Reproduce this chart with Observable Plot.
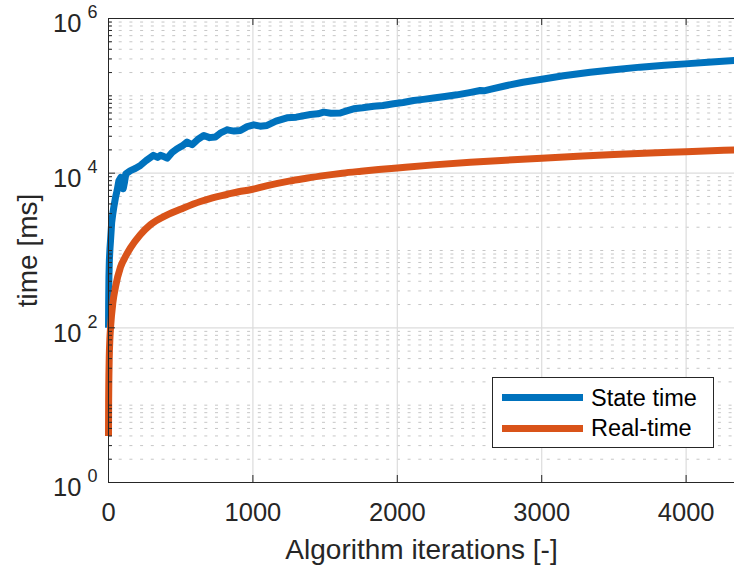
<!DOCTYPE html>
<html><head><meta charset="utf-8">
<script src="https://cdn.jsdelivr.net/npm/d3@7"></script>
<script src="https://cdn.jsdelivr.net/npm/@observablehq/plot@0.6"></script>
<style>
body{margin:0;background:#fff;}
#wrap{position:relative;width:734px;height:572px;font-family:"Liberation Sans",Arial,Helvetica,sans-serif;overflow:hidden;}
.lgbox{position:absolute;left:492px;top:377px;width:220px;height:69px;border:1px solid #262626;background:#fff;}
.lgline{position:absolute;left:502px;width:81px;height:7px;}
.lgtext{position:absolute;left:591px;font-size:23.5px;line-height:23.5px;color:#000;white-space:nowrap;}
</style></head>
<body><div id="wrap"></div>
<script>
// ---- data ----
const seriesNames = ["State time", "Real-time"];
const seriesColors = ["#0072BD", "#D95319"];

const stateIter = [0,1,3,6,10,14,22,30,37,48,60,72,85,95,102,110,120,152,185,221,260,311,340,360,380,406,440,475,510,544,579,620,660,700,740,780,821,870,913,960,1006,1050,1098,1160,1236,1300,1398,1450,1490,1540,1605,1650,1697,1760,1836,1900,1974,2040,2113,2180,2251,2330,2413,2500,2574,2600,2650,2759,2870,2990,3150,3336,3500,3682,3850,3993,4150,4335];
const stateMs = [100,200,450,750,1050,1350,2300,3000,3650,4800,6000,8000,8800,7500,6300,7500,9800,10800,11500,12600,14500,17000,16000,17000,16500,15600,18500,20700,22500,25200,23300,27500,30700,28800,29400,33500,36300,35000,35600,40000,42200,40500,41400,47000,52000,53000,57300,58500,61500,59500,60000,64000,68000,70000,73400,75000,78900,82000,87100,90000,93500,98000,103000,110000,117000,116000,122000,136000,150000,163000,182000,202000,217000,235000,248000,259000,272000,287000];

const realIter = [0,1,2,5,10,14,30,48,83,120,152,220,290,400,520,637,720,820,900,983,1100,1250,1370,1490,1620,1750,1870,2000,2250,2505,2750,3000,3250,3500,3750,4000,4335];
const realMs = [4,11,18,40,75,100,210,336,610,850,1080,1600,2150,2850,3550,4300,4800,5300,5750,6100,6900,7900,8600,9300,10000,10600,11150,11700,12800,13800,14700,15600,16500,17400,18200,18900,20000];

const xTicks = [0, 1000, 2000, 3000, 4000];
const xGrid = [1000, 2000, 3000, 4000];
const yTicks = [1, 100, 10000, 1000000];
const yGrid = [100, 10000];
const decades = [1, 10, 100, 1000, 10000, 100000];
const mantissas = [2, 3, 4, 5, 6, 7, 8, 9];
const oddDecades = [10, 1000, 100000];
const xLabel = "Algorithm iterations [-]";
const yLabel = "time [ms]";

// ---- build ----
const W = 734, H = 572, ML = 108, MT = 18, MB = 90, MR = 0;
const frameW = W - ML - MR, frameH = H - MT - MB;
const minor = decades.flatMap(d => mantissas.map(m => m * d)).concat(oddDecades);
const stateData = stateIter.map((x, i) => ({x, y: stateMs[i]}));
const realData = realIter.map((x, i) => ({x, y: realMs[i]}));
const axisColor = "#262626";

const plot = Plot.plot({
  width: W, height: H,
  marginLeft: ML, marginTop: MT, marginBottom: MB, marginRight: MR,
  style: {fontFamily: "'Liberation Sans', Arial, Helvetica, sans-serif", background: "#fff", color: axisColor},
  x: {domain: [0, 4335]},
  y: {type: "log", domain: [1, 1e6]},
  marks: [
    Plot.ruleY(minor, {y: d => d, stroke: "#c6c6c6", strokeWidth: 1, strokeDasharray: "3,7.7"}),
    Plot.ruleY(yGrid, {y: d => d, stroke: "#dcdcdc", strokeWidth: 1.2}),
    Plot.ruleX(xGrid, {x: d => d, stroke: "#dcdcdc", strokeWidth: 1.2}),
    Plot.line(stateData, {x: "x", y: "y", stroke: seriesColors[0], strokeWidth: 7, strokeLinecap: "butt", strokeLinejoin: "round"}),
    Plot.line(realData, {x: "x", y: "y", stroke: seriesColors[1], strokeWidth: 7, strokeLinecap: "butt", strokeLinejoin: "round", curve: "monotone-x"}),
    // axis lines
    Plot.ruleY([1], {y: d => d, stroke: axisColor, strokeWidth: 1}),
    Plot.ruleY([1e6], {y: d => d, stroke: axisColor, strokeWidth: 1}),
    Plot.ruleX([0], {x: d => d, stroke: axisColor, strokeWidth: 1}),
    // inward ticks
    Plot.tickX(xGrid, {x: d => d, stroke: axisColor, insetTop: frameH - 7}),
    Plot.tickX(xGrid, {x: d => d, stroke: axisColor, insetBottom: frameH - 7}),
    Plot.tickY(yGrid, {y: d => d, stroke: axisColor, insetRight: frameW - 7}),
    Plot.tickY(minor, {y: d => d, stroke: axisColor, insetRight: frameW - 4}),
    // tick labels
    Plot.axisX({ticks: xTicks, tickSize: 0, tickPadding: 20.5, fontSize: 25.5, label: null, tickFormat: d => String(d), fill: axisColor}),
    Plot.axisY({ticks: yTicks, tickSize: 0, tickPadding: 11, fontSize: 25.5, label: null, dy: 5.5,
      tickFormat: d => "10^" + Math.round(Math.log10(d)), fill: axisColor}),
    // axis titles
    Plot.text([xLabel], {text: d => d, frameAnchor: "bottom", textAnchor: "middle", lineAnchor: "middle", dy: 68, fontSize: 28, fill: axisColor}),
    Plot.text([yLabel], {text: d => d, frameAnchor: "left", textAnchor: "middle", lineAnchor: "middle", rotate: -90, dx: -80, fontSize: 28, fill: axisColor})
  ]
});

// superscript exponents on the y tick labels
plot.querySelectorAll('g[aria-label="y-axis tick label"] text').forEach(t => {
  const s = t.textContent;
  const i = s.indexOf("^");
  if (i < 0) return;
  const base = s.slice(0, i), exp = s.slice(i + 1);
  while (t.firstChild) t.removeChild(t.firstChild);
  t.appendChild(document.createTextNode(base));
  const ts = document.createElementNS("http://www.w3.org/2000/svg", "tspan");
  ts.setAttribute("font-size", "18");
  ts.setAttribute("dx", "6");
  ts.setAttribute("dy", "-14");
  ts.textContent = exp;
  t.appendChild(ts);
});

const wrap = document.getElementById("wrap");
wrap.appendChild(plot);

// legend
const box = document.createElement("div");
box.className = "lgbox";
wrap.appendChild(box);
const lineTops = [393.5, 424.5];
const textTops = [386.5, 417];
seriesNames.forEach((name, i) => {
  const ln = document.createElement("div");
  ln.className = "lgline";
  ln.style.top = lineTops[i] + "px";
  ln.style.background = seriesColors[i];
  wrap.appendChild(ln);
  const tx = document.createElement("div");
  tx.className = "lgtext";
  tx.style.top = textTops[i] + "px";
  tx.textContent = name;
  wrap.appendChild(tx);
});
</script>
</body></html>
